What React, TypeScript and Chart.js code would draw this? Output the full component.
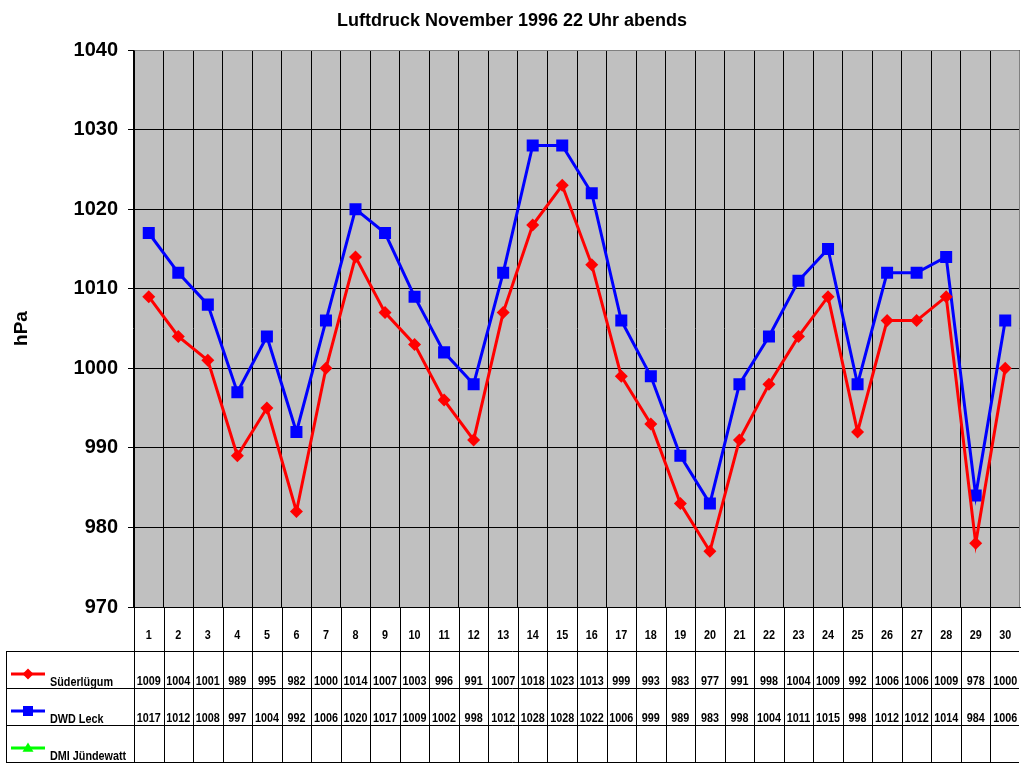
import React, { useEffect, useRef } from "react";
import { Chart, registerables } from "chart.js";

Chart.register(...registerables);

const chartTitle = "Luftdruck November 1996 22 Uhr abends";
const yAxisTitle = "hPa";
const days = ["1","2","3","4","5","6","7","8","9","10","11","12","13","14","15","16","17","18","19","20","21","22","23","24","25","26","27","28","29","30"];
const seriesNames = ["Süderlügum", "DWD Leck", "DMI Jündewatt"];
const suederluegum = [1009,1004,1001,989,995,982,1000,1014,1007,1003,996,991,1007,1018,1023,1013,999,993,983,977,991,998,1004,1009,992,1006,1006,1009,978,1000];
const dwdLeck = [1017,1012,1008,997,1004,992,1006,1020,1017,1009,1002,998,1012,1028,1028,1022,1006,999,989,983,998,1004,1011,1015,998,1012,1012,1014,984,1006];
const dmiJuendewatt: (number | null)[] = [];
const yMin = 970;
const yMax = 1040;
const yStep = 10;

const FONT = 'Arial, "Liberation Sans", sans-serif';
const colors = ["#FF0000", "#0000FF", "#00FF00"];
const markers = ["diamond", "square", "triangle"];

function drawMarker(ctx: CanvasRenderingContext2D, kind: string, x: number, y: number, s: number, color: string) {
  ctx.save();
  ctx.fillStyle = color;
  ctx.beginPath();
  if (kind === "diamond") {
    ctx.moveTo(x, y - s);
    ctx.lineTo(x + s, y);
    ctx.lineTo(x, y + s);
    ctx.lineTo(x - s, y);
  } else if (kind === "square") {
    ctx.rect(x - s, y - s, 2 * s, 2 * s);
  } else {
    ctx.moveTo(x, y - s);
    ctx.lineTo(x + s, y + s * 0.7);
    ctx.lineTo(x - s, y + s * 0.7);
  }
  ctx.closePath();
  ctx.fill();
  ctx.restore();
}

function condensedText(ctx: CanvasRenderingContext2D, text: string, x: number, y: number, align: CanvasTextAlign) {
  ctx.save();
  ctx.translate(x, y);
  ctx.scale(0.9, 1);
  ctx.textAlign = align;
  ctx.textBaseline = "alphabetic";
  ctx.fillText(text, 0, 0);
  ctx.restore();
}

const tablePlugin = {
  id: "excelLook",
  beforeDraw(chart: any) {
    const { ctx, chartArea } = chart;
    ctx.save();
    ctx.fillStyle = "#C0C0C0";
    ctx.fillRect(chartArea.left, chartArea.top, chartArea.right - chartArea.left, chartArea.bottom - chartArea.top);
    ctx.restore();
  },
  beforeDatasetsDraw(chart: any) {
    const { ctx, chartArea } = chart;
    ctx.save();
    ctx.strokeStyle = "#808080";
    ctx.lineWidth = 1;
    ctx.beginPath();
    const t = Math.round(chartArea.top) + 0.5;
    const r = Math.round(chartArea.right) - 0.5;
    ctx.moveTo(Math.round(chartArea.left) + 0.5, t);
    ctx.lineTo(r, t);
    ctx.moveTo(r, t);
    ctx.lineTo(r, Math.round(chartArea.bottom));
    ctx.stroke();
    ctx.restore();
  },
  afterDraw(chart: any) {
    const { ctx, chartArea } = chart;
    const xs = chart.scales.x;
    const half = (xs.getPixelForValue(1) - xs.getPixelForValue(0)) / 2;
    const bottom = Math.round(chartArea.bottom);
    const headerBottom = bottom + 44;
    const rowH = 37;
    const tableLeft = 6;
    const plotLeft = Math.round(chartArea.left);
    const tableRight = Math.round(chartArea.right) - 1;
    const tableBottom = headerBottom + rowH * 3;
    const px = (v: number) => Math.round(v) + 0.5;

    ctx.save();
    ctx.fillStyle = "#000";
    ctx.font = `bold 18px ${FONT}`;
    ctx.textAlign = "center";
    ctx.textBaseline = "alphabetic";
    ctx.fillText(chartTitle, 512, 26);

    ctx.save();
    ctx.translate(22, (chartArea.top + chartArea.bottom) / 2);
    ctx.rotate(-Math.PI / 2);
    ctx.font = `bold 19px ${FONT}`;
    ctx.textAlign = "center";
    ctx.textBaseline = "middle";
    ctx.fillText(yAxisTitle, 0, 0);
    ctx.restore();

    ctx.strokeStyle = "#000";
    ctx.lineWidth = 1;
    ctx.beginPath();
    for (let r = 0; r <= 3; r++) {
      const y = px(headerBottom + r * rowH);
      ctx.moveTo(tableLeft, y);
      ctx.lineTo(tableRight, y);
    }
    ctx.moveTo(px(tableLeft), px(headerBottom));
    ctx.lineTo(px(tableLeft), px(tableBottom));
    ctx.moveTo(px(plotLeft), bottom);
    ctx.lineTo(px(plotLeft), px(tableBottom));
    for (let i = 0; i < days.length - 1; i++) {
      const x = px(xs.getPixelForValue(i) + half);
      ctx.moveTo(x, bottom);
      ctx.lineTo(x, px(tableBottom));
    }
    ctx.stroke();

    ctx.font = `bold 12px ${FONT}`;
    days.forEach((d, i) => {
      condensedText(ctx, d, xs.getPixelForValue(i), bottom + 32, "center");
    });

    const rows = [suederluegum, dwdLeck, dmiJuendewatt];
    rows.forEach((vals, r) => {
      const top = headerBottom + r * rowH;
      const base = top + 34;
      vals.forEach((v, i) => {
        if (v === null || v === undefined) return;
        condensedText(ctx, String(v), xs.getPixelForValue(i), base, "center");
      });
      const ky = top + 23;
      ctx.save();
      ctx.strokeStyle = colors[r];
      ctx.lineWidth = 3;
      ctx.beginPath();
      ctx.moveTo(11, ky);
      ctx.lineTo(45, ky);
      ctx.stroke();
      ctx.restore();
      drawMarker(ctx, markers[r], 28, ky, r === 1 ? 5 : 5.5, colors[r]);
      condensedText(ctx, seriesNames[r], 50, base + 1, "left");
    });
    ctx.restore();
  },
};

export default function App() {
  const ref = useRef<HTMLCanvasElement | null>(null);
  useEffect(() => {
    if (!ref.current) return;
    const chart = new Chart(ref.current, {
      type: "line",
      data: {
        labels: days,
        datasets: [
          {
            label: seriesNames[0],
            data: suederluegum,
            borderColor: colors[0],
            backgroundColor: colors[0],
            borderWidth: 3,
            pointStyle: "rectRot",
            pointRadius: 6.5,
            pointBorderWidth: 0,
            tension: 0,
          },
          {
            label: seriesNames[1],
            data: dwdLeck,
            borderColor: colors[1],
            backgroundColor: colors[1],
            borderWidth: 3,
            pointStyle: "rect",
            pointRadius: 8.5,
            pointBorderWidth: 0,
            tension: 0,
          },
          {
            label: seriesNames[2],
            data: dmiJuendewatt,
            borderColor: colors[2],
            backgroundColor: colors[2],
            borderWidth: 3,
            pointStyle: "triangle",
            pointRadius: 6,
          },
        ],
      },
      options: {
        animation: false,
        responsive: false,
        devicePixelRatio: 1,
        layout: { autoPadding: false, padding: { top: 50, bottom: 161, right: 4, left: 0 } },
        plugins: {
          legend: { display: false },
          tooltip: { enabled: false },
          title: { display: false },
        },
        scales: {
          x: {
            type: "category",
            offset: true,
            grid: { offset: true, color: "#000", lineWidth: 1, drawTicks: false },
            border: { display: true, color: "#000", width: 1 },
            ticks: { display: false },
            afterFit: (s: any) => {
              s.height = 0;
            },
          },
          y: {
            min: yMin,
            max: yMax,
            ticks: {
              stepSize: yStep,
              color: "#000",
              font: { family: FONT, size: 20, weight: "bold" },
              padding: 10,
              callback: (v: any) => String(v),
            },
            grid: { color: "#000", lineWidth: 1, tickLength: 6, drawTicks: true },
            border: { display: true, color: "#000", width: 1 },
            afterFit: (s: any) => {
              s.width = 134;
            },
          },
        },
      },
      plugins: [tablePlugin],
    } as any);
    return () => chart.destroy();
  }, []);
  return (
    <div style={{ position: "absolute", left: 0, top: 0, width: 1024, height: 768, background: "#fff" }}>
      <canvas ref={ref} width={1024} height={768} style={{ width: 1024, height: 768, display: "block" }} />
    </div>
  );
}
